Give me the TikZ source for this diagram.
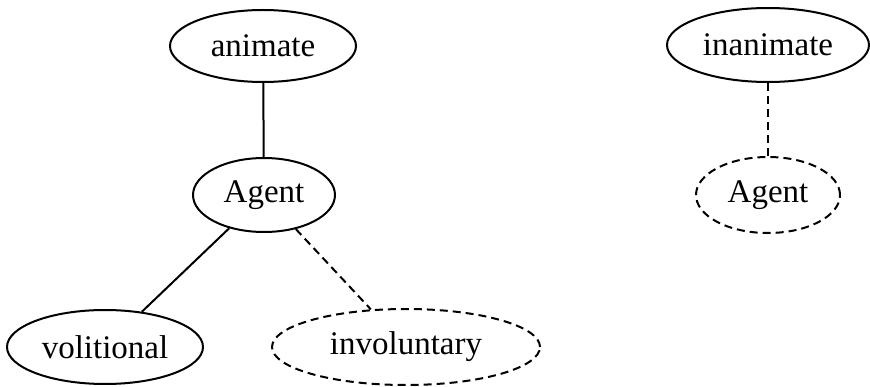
\documentclass[tikz,border=0pt]{standalone}
\usepackage{fontspec}
\setmainfont{Liberation Serif}
\usetikzlibrary{shapes.geometric}
\begin{document}
\begin{tikzpicture}[x=1pt,y=-1pt,
  ell/.style={ellipse,draw,line width=2pt,inner sep=0pt,font=\fontsize{33}{38}\selectfont},
  dsh/.style={dash pattern=on 8pt off 5pt},
  conn/.style={line width=2pt}]
\useasboundingbox (0,0) rectangle (870,387);
\node[ell,minimum width=186pt,minimum height=72pt] (animate) at (263,46) {animate};
\node[ell,minimum width=142pt,minimum height=74pt] (agent) at (264,195) {Agent};
\node[ell,minimum width=196pt,minimum height=74pt] (vol) at (105,347) {volitional};
\node[ell,dsh,minimum width=268pt,minimum height=76pt] (invol) at (406,347) {involuntary};
\node[ell,minimum width=202pt,minimum height=74pt] (inanimate) at (768,45) {inanimate};
\node[ell,dsh,minimum width=144pt,minimum height=76pt] (agent2) at (768,195) {Agent};
\draw[conn] (animate) -- (agent);
\draw[conn] (agent) -- (vol);
\draw[conn,dsh] (agent) -- (invol);
\draw[conn,dsh] (inanimate) -- (agent2);
\end{tikzpicture}
\end{document}
